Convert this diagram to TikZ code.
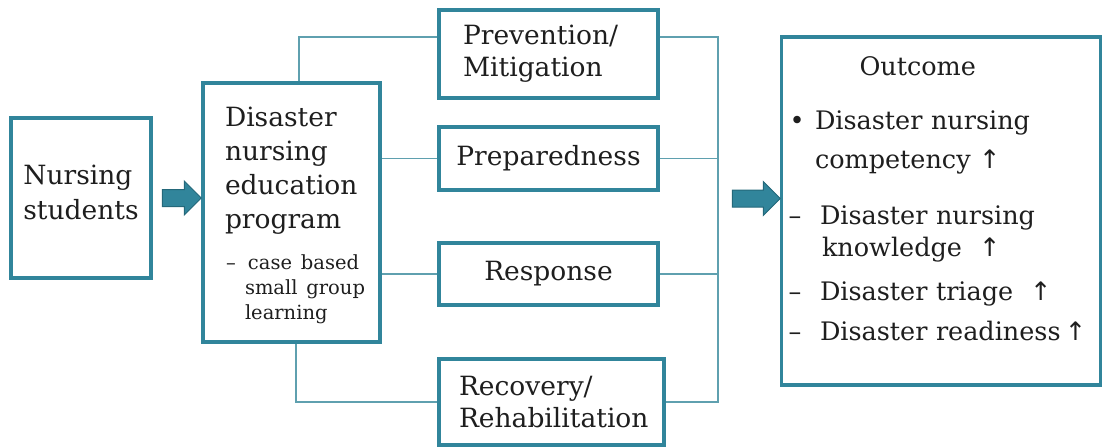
\documentclass[tikz,border=0pt]{standalone}
\usepackage{fontspec}
\setmainfont{DejaVu Serif}
\newfontfamily\arrowfont{DejaVu Sans}
\usepackage{xcolor}
\usetikzlibrary{shapes.arrows}
\definecolor{boxteal}{RGB}{49,133,155}
\definecolor{lineteal}{RGB}{95,160,175}
\definecolor{arrowdark}{RGB}{36,104,122}
\definecolor{txtgray}{RGB}{30,30,30}
\newcommand{\incr}{{\arrowfont ↑}}

\begin{document}
\begin{tikzpicture}[x=1pt, y=-1pt,
  box/.style={rectangle, draw=boxteal, line width=3.2pt, text=txtgray, inner sep=0pt, font=\fontsize{26.5}{32}\selectfont},
  link/.style={draw=lineteal, line width=1.2pt},
  fatarrow/.style={single arrow, fill=boxteal, draw=arrowdark, line width=1pt, text height=8pt, text depth=8pt, single arrow head extend=8.5pt, inner sep=0pt}]
\useasboundingbox (0,0) rectangle (1103,447);

\node (students) [box, minimum width=140pt, minimum height=160pt, align=left] at (81,198) {Nursing\\[3pt] students\\[-20pt]\mbox{}};
\node (program) [box, minimum width=177pt, minimum height=259pt, align=left, text width=133pt] at (291.5,212.5) {Disaster\\[2pt] nursing\\[2pt] education\\[2pt] program\\[16pt]
  {\fontsize{19.5}{25}\selectfont\begin{tabular}{@{}l@{}}\makebox[23pt][l]{\hspace*{1pt}–}case based\\ \hspace*{20pt}small group\\ \hspace*{20pt}learning\end{tabular}}\\[-10pt]\mbox{}};

\node (prevent) [box, minimum width=219pt, minimum height=88pt, align=left, text width=171pt] at (548.5,54) {Prevention/\\ Mitigation};
\node (prepare) [box, minimum width=219pt, minimum height=63pt] at (548.5,158.5) {Preparedness};
\node (respond) [box, minimum width=219pt, minimum height=62pt] at (548.5,274) {Response};
\node (recover) [box, minimum width=225pt, minimum height=86pt, align=left, text width=185pt] at (551.5,402) {Recovery/\\ Rehabilitation};

\node (outcome) [box, minimum width=319pt, minimum height=348pt, align=left, text width=311pt, font=\fontsize{25.5}{32}\selectfont] at (941,211) {\hspace*{74pt}Outcome\\[22pt]
\makebox[29.5pt][l]{\hspace*{4pt}\textbullet}Disaster nursing\\[7pt]
\hspace*{29.5pt}competency \incr\\[24pt]
\makebox[34.5pt][l]{\hspace*{3pt}–}Disaster nursing\\
\hspace*{36.5pt}knowledge\ \ \incr\\[12pt]
\makebox[34.5pt][l]{\hspace*{3pt}–}Disaster triage\ \ \incr\\[8pt]
\mbox{\makebox[34.5pt][l]{\hspace*{3pt}–}Disaster readiness\,\incr}\\[-7pt]\mbox{}};

\node (arrow1) [fatarrow, minimum height=39pt] at (177.5,198) {};
\node (arrow2) [fatarrow, minimum height=48pt] at (752,198.5) {};

\coordinate (bus) at (718,0);
\draw [link] ([xshift=7.5pt]program.north) |- ([yshift=17pt]prevent.west);
\draw [link] (prepare.west) -- (prepare.west -| program.east);
\draw [link] (respond.west) -- (respond.west -| program.east);
\draw [link] ([xshift=4.5pt]program.south) |- (recover.west);
\draw [link] ([yshift=17pt]prevent.east) -| (recover.east -| bus) -- (recover.east);
\draw [link] (prepare.east) -- (prepare.east -| bus);
\draw [link] (respond.east) -- (respond.east -| bus);

\end{tikzpicture}
\end{document}
